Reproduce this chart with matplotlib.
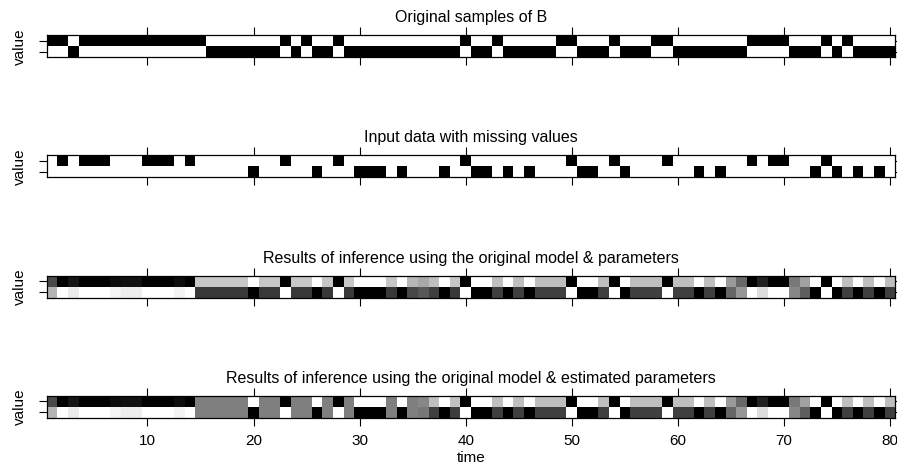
import numpy as np
import matplotlib
matplotlib.use("Agg")
from matplotlib import pyplot as plt

plt.rcParams["font.family"] = ["Liberation Sans", "DejaVu Sans"]

# time steps 1..80, state 2 = upper row, state 1 = lower row
time = np.arange(1, 81)

# original samples of B
b_true = [2, 2, 1, 2, 2, 2, 2, 2, 2, 2, 2, 2, 2, 2, 2, 1, 1, 1, 1, 1,
          1, 1, 2, 1, 2, 1, 1, 2, 1, 1, 1, 1, 1, 1, 1, 1, 1, 1, 1, 2,
          1, 1, 2, 1, 1, 1, 1, 1, 2, 2, 1, 1, 1, 2, 1, 1, 1, 2, 2, 1,
          1, 1, 1, 1, 1, 1, 2, 2, 2, 2, 1, 1, 1, 2, 1, 2, 1, 1, 1, 1]

# observed data, 0 = missing
b_obs = [0, 2, 0, 2, 2, 2, 0, 0, 0, 2, 2, 2, 0, 2, 0, 0, 0, 0, 0, 1,
         0, 0, 2, 0, 0, 1, 0, 2, 0, 1, 1, 1, 0, 1, 0, 0, 0, 1, 0, 2,
         1, 1, 0, 1, 0, 1, 0, 0, 0, 2, 1, 1, 0, 2, 1, 0, 0, 0, 2, 0,
         0, 1, 0, 1, 0, 0, 2, 0, 2, 2, 0, 0, 1, 2, 1, 0, 1, 0, 1, 0]

# posterior P(B = 2), original parameters
p_orig = [0.71, 1, 0.92, 1, 1, 1, 0.95, 0.93, 0.93, 1, 1, 1, 0.95, 1, 0.22, 0.22, 0.22, 0.22, 0.22, 0,
          0.22, 0.22, 1, 0.22, 0.22, 0, 0.22, 1, 0.22, 0, 0, 0, 0.22, 0, 0.28, 0.34, 0.25, 0, 0.22, 1,
          0, 0, 0.25, 0, 0.25, 0, 0.25, 0.25, 0.25, 1, 0, 0, 0.25, 1, 0, 0.25, 0.25, 0.25, 1, 0.25,
          0.25, 0, 0.25, 0, 0.40, 0.59, 1, 0.87, 1, 1, 0.53, 0.37, 0, 1, 0, 0.25, 0, 0.25, 0, 0.25]

# posterior P(B = 2), estimated parameters
p_est = [0.71, 1, 0.92, 1, 1, 1, 0.95, 0.93, 0.93, 1, 1, 1, 0.95, 1, 0.5, 0.5, 0.5, 0.5, 0.5, 0,
         0.5, 0.5, 1, 0.5, 0.5, 0, 0.5, 1, 0.5, 0, 0, 0, 0.5, 0, 0.5, 0.47, 0.25, 0, 0.24, 1,
         0, 0, 0.25, 0, 0.25, 0, 0.25, 0.25, 0.25, 1, 0, 0, 0.25, 1, 0, 0.25, 0.25, 0.25, 1, 0.25,
         0.25, 0, 0.25, 0, 0.40, 0.59, 1, 0.87, 1, 1, 0.53, 0.37, 0, 1, 0, 0.25, 0, 0.25, 0, 0.25]

titles = ["Original samples of B",
          "Input data with missing values",
          "Results of inference using the original model & parameters",
          "Results of inference using the original model & estimated parameters"]
x_ticks = [10, 20, 30, 40, 50, 60, 70, 80]


def one_hot(b):
    b = np.asarray(b)
    return np.vstack([(b == 1).astype(float), (b == 2).astype(float)])


def prob_rows(p):
    p = np.asarray(p, dtype=float)
    return np.vstack([1 - p, p])


panels = [one_hot(b_true), one_hot(b_obs), prob_rows(p_orig), prob_rows(p_est)]

W, H = 897, 468
fig = plt.figure(figsize=(W / 100, H / 100), dpi=100)

left_px, right_px = 46.7, 895.3
box_h = 22
x_edges = np.arange(0.5, 81.5, 1)
y_edges = np.array([0.5, 1.5, 2.5])

for k, (mat, title) in enumerate(zip(panels, titles)):
    top_px = 35.2 + 120.2 * k
    ax = fig.add_axes([left_px / W, 1 - (top_px + box_h) / H,
                       (right_px - left_px) / W, box_h / H])
    ax.pcolormesh(x_edges, y_edges, mat, cmap="gray_r", vmin=0, vmax=1)
    ax.set_xlim(0.5, 80.5)
    ax.set_ylim(0.5, 2.5)
    ax.set_xticks(x_ticks)
    ax.set_yticks([1, 2])
    ax.set_yticklabels(["", ""])
    ax.tick_params(axis="both", direction="out", length=6, width=0.8,
                   top=True, right=True, labelsize=11)
    ax.tick_params(axis="x", pad=6)
    if k < 3:
        ax.set_xticklabels([])
    else:
        ax.set_xlabel("time", fontsize=11, labelpad=2)
    ax.set_ylabel("value", fontsize=11, labelpad=5)
    for s in ax.spines.values():
        s.set_linewidth(0.9)
    # title placed 13 px above the panel box
    ax.text(0.5, 1 + 13 / box_h, title, transform=ax.transAxes,
            ha="center", va="baseline", fontsize=11.5)

fig.savefig("out.png", dpi=100)
